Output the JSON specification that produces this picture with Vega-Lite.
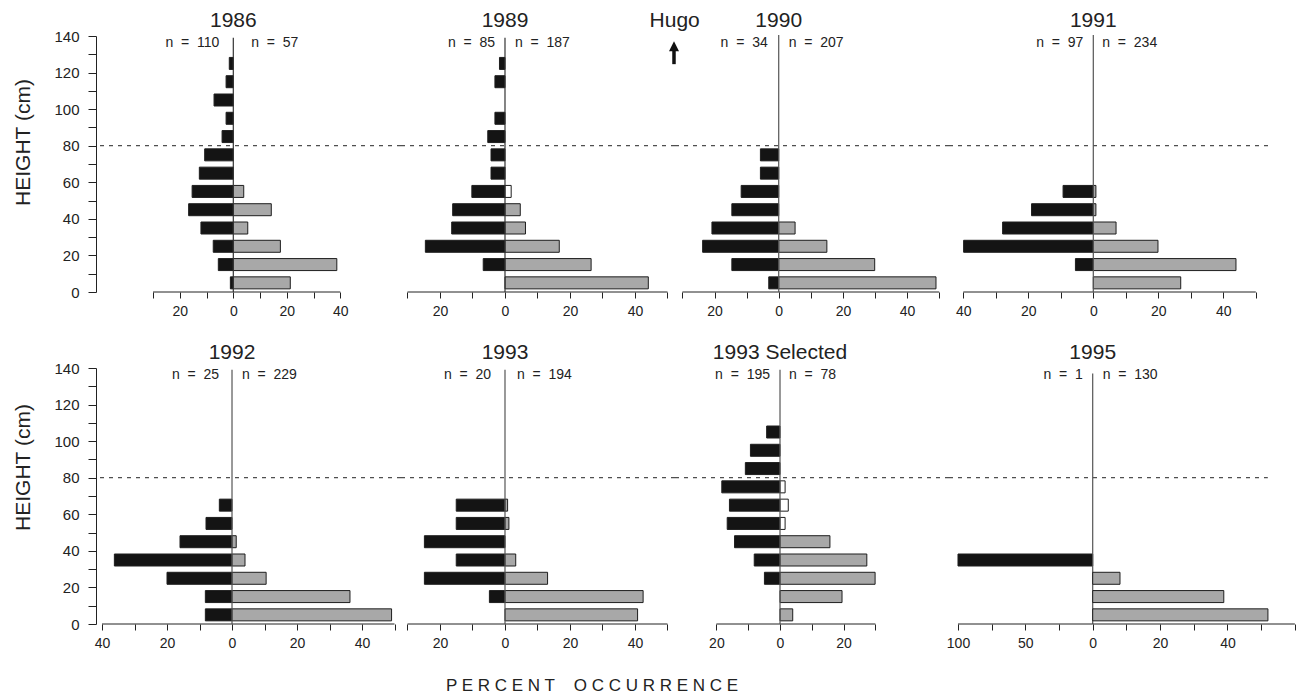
{
"$schema": "https://vega.github.io/schema/vega-lite/v6.json",
"padding": {"left": 12, "top": 10, "right": 0, "bottom": 0},
"background": "white",
"columns": 4,
"bounds": "flush",
"spacing": {"row": 76, "column": 0},
"title": {"text": "P E R C E N T\u00a0\u00a0\u00a0 O C C U R R E N C E", "orient": "bottom", "anchor": "middle", "fontSize": 17, "fontWeight": "normal", "font": "Liberation Sans", "color": "#222", "offset": 28, "dx": -62},
"datasets": {
"bars": [
{"panel":"1986","height_cm":5,"percent":-1.1,"class":"L"},
{"panel":"1986","height_cm":15,"percent":-5.6,"class":"L"},
{"panel":"1986","height_cm":25,"percent":-7.5,"class":"L"},
{"panel":"1986","height_cm":35,"percent":-12.1,"class":"L"},
{"panel":"1986","height_cm":45,"percent":-16.7,"class":"L"},
{"panel":"1986","height_cm":55,"percent":-15.4,"class":"L"},
{"panel":"1986","height_cm":65,"percent":-12.7,"class":"L"},
{"panel":"1986","height_cm":75,"percent":-10.7,"class":"L"},
{"panel":"1986","height_cm":85,"percent":-4.2,"class":"L"},
{"panel":"1986","height_cm":95,"percent":-2.7,"class":"L"},
{"panel":"1986","height_cm":105,"percent":-7.2,"class":"L"},
{"panel":"1986","height_cm":115,"percent":-2.7,"class":"L"},
{"panel":"1986","height_cm":125,"percent":-1.5,"class":"L"},
{"panel":"1986","height_cm":5,"percent":21.3,"class":"R"},
{"panel":"1986","height_cm":15,"percent":38.7,"class":"R"},
{"panel":"1986","height_cm":25,"percent":17.6,"class":"R"},
{"panel":"1986","height_cm":35,"percent":5.4,"class":"R"},
{"panel":"1986","height_cm":45,"percent":14.2,"class":"R"},
{"panel":"1986","height_cm":55,"percent":3.9,"class":"R"},
{"panel":"1989","height_cm":15,"percent":-6.7,"class":"L"},
{"panel":"1989","height_cm":25,"percent":-24.5,"class":"L"},
{"panel":"1989","height_cm":35,"percent":-16.4,"class":"L"},
{"panel":"1989","height_cm":45,"percent":-16.1,"class":"L"},
{"panel":"1989","height_cm":55,"percent":-10.2,"class":"L"},
{"panel":"1989","height_cm":65,"percent":-4.3,"class":"L"},
{"panel":"1989","height_cm":75,"percent":-4.3,"class":"L"},
{"panel":"1989","height_cm":85,"percent":-5.3,"class":"L"},
{"panel":"1989","height_cm":95,"percent":-3.1,"class":"L"},
{"panel":"1989","height_cm":115,"percent":-3.1,"class":"L"},
{"panel":"1989","height_cm":125,"percent":-1.7,"class":"L"},
{"panel":"1989","height_cm":5,"percent":44.1,"class":"R"},
{"panel":"1989","height_cm":15,"percent":26.5,"class":"R"},
{"panel":"1989","height_cm":25,"percent":16.7,"class":"R"},
{"panel":"1989","height_cm":35,"percent":6.3,"class":"R"},
{"panel":"1989","height_cm":45,"percent":4.7,"class":"R"},
{"panel":"1989","height_cm":55,"percent":1.9,"class":"R*"},
{"panel":"1990","height_cm":5,"percent":-3.1,"class":"L"},
{"panel":"1990","height_cm":15,"percent":-14.6,"class":"L"},
{"panel":"1990","height_cm":25,"percent":-23.7,"class":"L"},
{"panel":"1990","height_cm":35,"percent":-20.8,"class":"L"},
{"panel":"1990","height_cm":45,"percent":-14.6,"class":"L"},
{"panel":"1990","height_cm":55,"percent":-11.7,"class":"L"},
{"panel":"1990","height_cm":65,"percent":-5.7,"class":"L"},
{"panel":"1990","height_cm":75,"percent":-5.7,"class":"L"},
{"panel":"1990","height_cm":5,"percent":49.0,"class":"R"},
{"panel":"1990","height_cm":15,"percent":29.9,"class":"R"},
{"panel":"1990","height_cm":25,"percent":15.0,"class":"R"},
{"panel":"1990","height_cm":35,"percent":5.1,"class":"R"},
{"panel":"1991","height_cm":15,"percent":-5.5,"class":"L"},
{"panel":"1991","height_cm":25,"percent":-39.9,"class":"L"},
{"panel":"1991","height_cm":35,"percent":-27.9,"class":"L"},
{"panel":"1991","height_cm":45,"percent":-19.0,"class":"L"},
{"panel":"1991","height_cm":55,"percent":-9.3,"class":"L"},
{"panel":"1991","height_cm":5,"percent":26.9,"class":"R"},
{"panel":"1991","height_cm":15,"percent":43.9,"class":"R"},
{"panel":"1991","height_cm":25,"percent":19.9,"class":"R"},
{"panel":"1991","height_cm":35,"percent":7.0,"class":"R"},
{"panel":"1991","height_cm":45,"percent":0.8,"class":"R"},
{"panel":"1991","height_cm":55,"percent":0.8,"class":"R"},
{"panel":"1992","height_cm":5,"percent":-8.2,"class":"L"},
{"panel":"1992","height_cm":15,"percent":-8.2,"class":"L"},
{"panel":"1992","height_cm":25,"percent":-20.0,"class":"L"},
{"panel":"1992","height_cm":35,"percent":-36.2,"class":"L"},
{"panel":"1992","height_cm":45,"percent":-16.0,"class":"L"},
{"panel":"1992","height_cm":55,"percent":-8.0,"class":"L"},
{"panel":"1992","height_cm":65,"percent":-3.9,"class":"L"},
{"panel":"1992","height_cm":5,"percent":49.1,"class":"R"},
{"panel":"1992","height_cm":15,"percent":36.3,"class":"R"},
{"panel":"1992","height_cm":25,"percent":10.5,"class":"R"},
{"panel":"1992","height_cm":35,"percent":4.0,"class":"R"},
{"panel":"1992","height_cm":45,"percent":1.3,"class":"R"},
{"panel":"1993","height_cm":15,"percent":-4.8,"class":"L"},
{"panel":"1993","height_cm":25,"percent":-24.8,"class":"L"},
{"panel":"1993","height_cm":35,"percent":-15.0,"class":"L"},
{"panel":"1993","height_cm":45,"percent":-24.8,"class":"L"},
{"panel":"1993","height_cm":55,"percent":-15.0,"class":"L"},
{"panel":"1993","height_cm":65,"percent":-15.0,"class":"L"},
{"panel":"1993","height_cm":5,"percent":40.8,"class":"R"},
{"panel":"1993","height_cm":15,"percent":42.5,"class":"R"},
{"panel":"1993","height_cm":25,"percent":13.1,"class":"R"},
{"panel":"1993","height_cm":35,"percent":3.3,"class":"R"},
{"panel":"1993","height_cm":55,"percent":1.2,"class":"R"},
{"panel":"1993","height_cm":65,"percent":0.8,"class":"R"},
{"panel":"1993 Selected","height_cm":25,"percent":-4.9,"class":"L"},
{"panel":"1993 Selected","height_cm":35,"percent":-8.1,"class":"L"},
{"panel":"1993 Selected","height_cm":45,"percent":-14.3,"class":"L"},
{"panel":"1993 Selected","height_cm":55,"percent":-16.6,"class":"L"},
{"panel":"1993 Selected","height_cm":65,"percent":-15.9,"class":"L"},
{"panel":"1993 Selected","height_cm":75,"percent":-18.3,"class":"L"},
{"panel":"1993 Selected","height_cm":85,"percent":-10.9,"class":"L"},
{"panel":"1993 Selected","height_cm":95,"percent":-9.3,"class":"L"},
{"panel":"1993 Selected","height_cm":105,"percent":-4.2,"class":"L"},
{"panel":"1993 Selected","height_cm":5,"percent":4.0,"class":"R"},
{"panel":"1993 Selected","height_cm":15,"percent":19.5,"class":"R"},
{"panel":"1993 Selected","height_cm":25,"percent":29.9,"class":"R"},
{"panel":"1993 Selected","height_cm":35,"percent":27.3,"class":"R"},
{"panel":"1993 Selected","height_cm":45,"percent":15.7,"class":"R"},
{"panel":"1993 Selected","height_cm":55,"percent":1.6,"class":"R*"},
{"panel":"1993 Selected","height_cm":65,"percent":2.6,"class":"R*"},
{"panel":"1993 Selected","height_cm":75,"percent":1.6,"class":"R*"},
{"panel":"1995","height_cm":35,"percent":-100,"class":"L"},
{"panel":"1995","height_cm":5,"percent":52.0,"class":"R"},
{"panel":"1995","height_cm":15,"percent":38.9,"class":"R"},
{"panel":"1995","height_cm":25,"percent":8.1,"class":"R"}
],
"counts": [
{"panel":"1986","side":"L","n":110},{"panel":"1986","side":"R","n":57},
{"panel":"1989","side":"L","n":85},{"panel":"1989","side":"R","n":187},
{"panel":"1990","side":"L","n":34},{"panel":"1990","side":"R","n":207},
{"panel":"1991","side":"L","n":97},{"panel":"1991","side":"R","n":234},
{"panel":"1992","side":"L","n":25},{"panel":"1992","side":"R","n":229},
{"panel":"1993","side":"L","n":20},{"panel":"1993","side":"R","n":194},
{"panel":"1993 Selected","side":"L","n":195},{"panel":"1993 Selected","side":"R","n":78},
{"panel":"1995","side":"L","n":1},{"panel":"1995","side":"R","n":130}
],
"one": [{}]
},
"concat": [
{"width": 305, "height": 256, "layer": [
 {"data":{"name":"one"},"mark": {"type":"rule","strokeDash":[4,5],"color":"#222"}, "encoding": {"y": {"datum":80,"type":"quantitative","scale":{"domain":[0,140],"nice":false,"zero":false,"padding":0},"axis":{"values":[0,10,20,30,40,50,60,70,80,90,100,110,120,130,140],"tickCount":100,"labelExpr":"datum.value % 20 === 0 ? datum.label : ''","labelOverlap":false,"title":"HEIGHT (cm)","titleFontSize":21,"titleX":-73,"titleY":106,"titleAngle":270,"titleAlign":"center","titleBaseline":"middle"}}}},
 {"data":{"name":"bars"},"transform":[{"filter":"datum.panel === '1986'"}],
  "mark":{"type":"bar","orient":"horizontal","size":12,"stroke":"#1e1e1e","strokeWidth":1},
  "encoding":{
   "x":{"field":"percent","type":"quantitative","stack":null,"scale":{"domain":[-51.33,62.69],"nice":false,"zero":false,"padding":0},"axis":{"values":[-30,-20,-10,0,10,20,30,40],"tickCount":100,"labelExpr":"abs(datum.value) % 20 === 0 ? format(abs(datum.value), 'd') : ''","labelOverlap":false,"title":null}},
   "y":{"field":"height_cm","type":"quantitative","scale":{"domain":[0,140],"nice":false,"zero":false,"padding":0},"axis":{"values":[0,10,20,30,40,50,60,70,80,90,100,110,120,130,140],"tickCount":100,"labelExpr":"datum.value % 20 === 0 ? datum.label : ''","labelOverlap":false,"title":"HEIGHT (cm)","titleFontSize":21,"titleX":-73,"titleY":106,"titleAngle":270,"titleAlign":"center","titleBaseline":"middle"}},
   "fill":{"field":"class","type":"nominal","scale":{"domain":["L","R","R*"],"range":["#141414","#a8a8a8","#ffffff"]},"legend":null}}},
 {"data":{"name":"one"},"mark":{"type":"rule","color":"#222"},"encoding":{"x":{"datum":-30,"type":"quantitative","scale":{"domain":[-51.33,62.69],"nice":false,"zero":false,"padding":0}},"x2":{"datum":40},"y":{"datum":0,"type":"quantitative"}}},
 {"data":{"name":"one"},"mark":{"type":"rule","color":"#333","strokeWidth":1.2},"encoding":{"x":{"datum":0,"type":"quantitative"},"y":{"datum":0,"type":"quantitative"},"y2":{"datum":139}}},
 {"data":{"name":"counts"},"transform":[{"filter":"datum.panel === '1986' && datum.side === 'L'"},{"calculate":"'n\u00a0\u00a0=\u00a0\u00a0' + datum.n","as":"label"}],
  "mark":{"type":"text","align":"right","dx":-14,"fontSize":14},"encoding":{"x":{"datum":0,"type":"quantitative"},"y":{"datum":136,"type":"quantitative"},"text":{"field":"label"}}},
 {"data":{"name":"counts"},"transform":[{"filter":"datum.panel === '1986' && datum.side === 'R'"},{"calculate":"'n\u00a0\u00a0=\u00a0\u00a0' + datum.n","as":"label"}],
  "mark":{"type":"text","align":"left","dx":18,"fontSize":14},"encoding":{"x":{"datum":0,"type":"quantitative"},"y":{"datum":136,"type":"quantitative"},"text":{"field":"label"}}},
 {"data":{"name":"one"},"mark":{"type":"text","text":"1986","fontSize":21},"encoding":{"x":{"datum":0,"type":"quantitative"},"y":{"datum":148,"type":"quantitative"}}}
]},
{"width": 274, "height": 256, "layer": [
 {"data":{"name":"one"},"mark": {"type":"rule","strokeDash":[4,5],"color":"#222"}, "encoding": {"y": {"datum":80,"type":"quantitative","scale":{"domain":[0,140],"nice":false,"zero":false,"padding":0},"axis":null}}},
 {"data":{"name":"bars"},"transform":[{"filter":"datum.panel === '1989'"}],
  "mark":{"type":"bar","orient":"horizontal","size":12,"stroke":"#1e1e1e","strokeWidth":1},
  "encoding":{
   "x":{"field":"percent","type":"quantitative","stack":null,"scale":{"domain":[-32.0,52.31],"nice":false,"zero":false,"padding":0},"axis":{"values":[-30,-20,-10,0,10,20,30,40,50],"tickCount":100,"labelExpr":"abs(datum.value) % 20 === 0 ? format(abs(datum.value), 'd') : ''","labelOverlap":false,"title":null}},
   "y":{"field":"height_cm","type":"quantitative","scale":{"domain":[0,140],"nice":false,"zero":false,"padding":0},"axis":null},
   "fill":{"field":"class","type":"nominal","scale":{"domain":["L","R","R*"],"range":["#141414","#a8a8a8","#ffffff"]},"legend":null}}},
 {"data":{"name":"one"},"mark":{"type":"rule","color":"#222"},"encoding":{"x":{"datum":-30,"type":"quantitative","scale":{"domain":[-32.0,52.31],"nice":false,"zero":false,"padding":0}},"x2":{"datum":50},"y":{"datum":0,"type":"quantitative","axis":null}}},
 {"data":{"name":"one"},"mark":{"type":"rule","color":"#333","strokeWidth":1.2},"encoding":{"x":{"datum":0,"type":"quantitative"},"y":{"datum":0,"type":"quantitative","axis":null},"y2":{"datum":139}}},
 {"data":{"name":"counts"},"transform":[{"filter":"datum.panel === '1989' && datum.side === 'L'"},{"calculate":"'n\u00a0\u00a0=\u00a0\u00a0' + datum.n","as":"label"}],
  "mark":{"type":"text","align":"right","dx":-10,"fontSize":14},"encoding":{"x":{"datum":0,"type":"quantitative"},"y":{"datum":136,"type":"quantitative","axis":null},"text":{"field":"label"}}},
 {"data":{"name":"counts"},"transform":[{"filter":"datum.panel === '1989' && datum.side === 'R'"},{"calculate":"'n\u00a0\u00a0=\u00a0\u00a0' + datum.n","as":"label"}],
  "mark":{"type":"text","align":"left","dx":10,"fontSize":14},"encoding":{"x":{"datum":0,"type":"quantitative"},"y":{"datum":136,"type":"quantitative","axis":null},"text":{"field":"label"}}},
 {"data":{"name":"one"},"mark":{"type":"text","text":"1989","fontSize":21},"encoding":{"x":{"datum":0,"type":"quantitative"},"y":{"datum":148,"type":"quantitative","axis":null}}},
 {"data":{"name":"one"},"mark":{"type":"text","text":"Hugo","fontSize":21},"encoding":{"x":{"datum":52.2,"type":"quantitative"},"y":{"datum":148,"type":"quantitative","axis":null}}},
 {"data":{"name":"one"},"mark":{"type":"rule","color":"#111","strokeWidth":3.5},"encoding":{"x":{"datum":52,"type":"quantitative"},"y":{"datum":124.6,"type":"quantitative","axis":null},"y2":{"datum":132.5}}},
 {"data":{"name":"one"},"mark":{"type":"point","shape":"M-1,1L0,-1L1,1Z","filled":true,"color":"#111","size":100,"opacity":1,"strokeWidth":0},"encoding":{"x":{"datum":52,"type":"quantitative"},"y":{"datum":134.4,"type":"quantitative","axis":null}}}
]},
{"width": 274, "height": 256, "layer": [
 {"data":{"name":"one"},"mark": {"type":"rule","strokeDash":[4,5],"color":"#222"}, "encoding": {"y": {"datum":80,"type":"quantitative","scale":{"domain":[0,140],"nice":false,"zero":false,"padding":0},"axis":null}}},
 {"data":{"name":"bars"},"transform":[{"filter":"datum.panel === '1990'"}],
  "mark":{"type":"bar","orient":"horizontal","size":12,"stroke":"#1e1e1e","strokeWidth":1},
  "encoding":{
   "x":{"field":"percent","type":"quantitative","stack":null,"scale":{"domain":[-32.31,53.05],"nice":false,"zero":false,"padding":0},"axis":{"values":[-30,-20,-10,0,10,20,30,40,50],"tickCount":100,"labelExpr":"abs(datum.value) % 20 === 0 ? format(abs(datum.value), 'd') : ''","labelOverlap":false,"title":null}},
   "y":{"field":"height_cm","type":"quantitative","scale":{"domain":[0,140],"nice":false,"zero":false,"padding":0},"axis":null},
   "fill":{"field":"class","type":"nominal","scale":{"domain":["L","R","R*"],"range":["#141414","#a8a8a8","#ffffff"]},"legend":null}}},
 {"data":{"name":"one"},"mark":{"type":"rule","color":"#222"},"encoding":{"x":{"datum":-30,"type":"quantitative","scale":{"domain":[-32.31,53.05],"nice":false,"zero":false,"padding":0}},"x2":{"datum":50},"y":{"datum":0,"type":"quantitative","axis":null}}},
 {"data":{"name":"one"},"mark":{"type":"rule","color":"#555","strokeWidth":1.2},"encoding":{"x":{"datum":0,"type":"quantitative"},"y":{"datum":0,"type":"quantitative","axis":null},"y2":{"datum":140.5}}},
 {"data":{"name":"counts"},"transform":[{"filter":"datum.panel === '1990' && datum.side === 'L'"},{"calculate":"'n\u00a0\u00a0=\u00a0\u00a0' + datum.n","as":"label"}],
  "mark":{"type":"text","align":"right","dx":-11,"fontSize":14},"encoding":{"x":{"datum":0,"type":"quantitative"},"y":{"datum":136,"type":"quantitative","axis":null},"text":{"field":"label"}}},
 {"data":{"name":"counts"},"transform":[{"filter":"datum.panel === '1990' && datum.side === 'R'"},{"calculate":"'n\u00a0\u00a0=\u00a0\u00a0' + datum.n","as":"label"}],
  "mark":{"type":"text","align":"left","dx":10,"fontSize":14},"encoding":{"x":{"datum":0,"type":"quantitative"},"y":{"datum":136,"type":"quantitative","axis":null},"text":{"field":"label"}}},
 {"data":{"name":"one"},"mark":{"type":"text","text":"1990","fontSize":21},"encoding":{"x":{"datum":0,"type":"quantitative"},"y":{"datum":148,"type":"quantitative","axis":null}}}
]},
{"width": 347, "height": 256, "layer": [
 {"data":{"name":"one"},"mark": {"type":"rule","strokeDash":[4,5],"color":"#222"}, "encoding": {"y": {"datum":80,"type":"quantitative","scale":{"domain":[0,140],"nice":false,"zero":false,"padding":0},"axis":null},"x":{"datum":-44.4,"type":"quantitative","scale":{"domain":[-44.4,62.37],"nice":false,"zero":false,"padding":0}},"x2":{"datum":53.75}}},
 {"data":{"name":"bars"},"transform":[{"filter":"datum.panel === '1991'"}],
  "mark":{"type":"bar","orient":"horizontal","size":12,"stroke":"#1e1e1e","strokeWidth":1},
  "encoding":{
   "x":{"field":"percent","type":"quantitative","stack":null,"scale":{"domain":[-44.4,62.37],"nice":false,"zero":false,"padding":0},"axis":{"values":[-40,-30,-20,-10,0,10,20,30,40,50],"tickCount":100,"labelExpr":"abs(datum.value) % 20 === 0 ? format(abs(datum.value), 'd') : ''","labelOverlap":false,"title":null}},
   "y":{"field":"height_cm","type":"quantitative","scale":{"domain":[0,140],"nice":false,"zero":false,"padding":0},"axis":null},
   "fill":{"field":"class","type":"nominal","scale":{"domain":["L","R","R*"],"range":["#141414","#a8a8a8","#ffffff"]},"legend":null}}},
 {"data":{"name":"one"},"mark":{"type":"rule","color":"#222"},"encoding":{"x":{"datum":-40,"type":"quantitative"},"x2":{"datum":50},"y":{"datum":0,"type":"quantitative","axis":null}}},
 {"data":{"name":"one"},"mark":{"type":"rule","color":"#555","strokeWidth":1.2},"encoding":{"x":{"datum":0,"type":"quantitative"},"y":{"datum":0,"type":"quantitative","axis":null},"y2":{"datum":140.5}}},
 {"data":{"name":"counts"},"transform":[{"filter":"datum.panel === '1991' && datum.side === 'L'"},{"calculate":"'n\u00a0\u00a0=\u00a0\u00a0' + datum.n","as":"label"}],
  "mark":{"type":"text","align":"right","dx":-10,"fontSize":14},"encoding":{"x":{"datum":0,"type":"quantitative"},"y":{"datum":136,"type":"quantitative","axis":null},"text":{"field":"label"}}},
 {"data":{"name":"counts"},"transform":[{"filter":"datum.panel === '1991' && datum.side === 'R'"},{"calculate":"'n\u00a0\u00a0=\u00a0\u00a0' + datum.n","as":"label"}],
  "mark":{"type":"text","align":"left","dx":9,"fontSize":14},"encoding":{"x":{"datum":0,"type":"quantitative"},"y":{"datum":136,"type":"quantitative","axis":null},"text":{"field":"label"}}},
 {"data":{"name":"one"},"mark":{"type":"text","text":"1991","fontSize":21},"encoding":{"x":{"datum":0,"type":"quantitative"},"y":{"datum":148,"type":"quantitative","axis":null}}}
]},
{"width": 305, "height": 256, "layer": [
 {"data":{"name":"one"},"mark": {"type":"rule","strokeDash":[4,5],"color":"#222"}, "encoding": {"y": {"datum":80,"type":"quantitative","scale":{"domain":[0,140],"nice":false,"zero":false,"padding":0},"axis":{"values":[0,10,20,30,40,50,60,70,80,90,100,110,120,130,140],"tickCount":100,"labelExpr":"datum.value % 20 === 0 ? datum.label : ''","labelOverlap":false,"title":"HEIGHT (cm)","titleFontSize":21,"titleX":-73,"titleY":99,"titleAngle":270,"titleAlign":"center","titleBaseline":"middle"}}}},
 {"data":{"name":"bars"},"transform":[{"filter":"datum.panel === '1992'"}],
  "mark":{"type":"bar","orient":"horizontal","size":12,"stroke":"#1e1e1e","strokeWidth":1},
  "encoding":{
   "x":{"field":"percent","type":"quantitative","stack":null,"scale":{"domain":[-41.85,52.0],"nice":false,"zero":false,"padding":0},"axis":{"values":[-40,-30,-20,-10,0,10,20,30,40,50],"tickCount":100,"labelExpr":"abs(datum.value) % 20 === 0 ? format(abs(datum.value), 'd') : ''","labelOverlap":false,"title":null}},
   "y":{"field":"height_cm","type":"quantitative","scale":{"domain":[0,140],"nice":false,"zero":false,"padding":0},"axis":{"values":[0,10,20,30,40,50,60,70,80,90,100,110,120,130,140],"tickCount":100,"labelExpr":"datum.value % 20 === 0 ? datum.label : ''","labelOverlap":false,"title":"HEIGHT (cm)","titleFontSize":21,"titleX":-73,"titleY":99,"titleAngle":270,"titleAlign":"center","titleBaseline":"middle"}},
   "fill":{"field":"class","type":"nominal","scale":{"domain":["L","R","R*"],"range":["#141414","#a8a8a8","#ffffff"]},"legend":null}}},
 {"data":{"name":"one"},"mark":{"type":"rule","color":"#222"},"encoding":{"x":{"datum":-40,"type":"quantitative","scale":{"domain":[-41.85,52.0],"nice":false,"zero":false,"padding":0}},"x2":{"datum":50},"y":{"datum":0,"type":"quantitative"}}},
 {"data":{"name":"one"},"mark":{"type":"rule","color":"#555","strokeWidth":1.2},"encoding":{"x":{"datum":0,"type":"quantitative"},"y":{"datum":0,"type":"quantitative"},"y2":{"datum":139}}},
 {"data":{"name":"counts"},"transform":[{"filter":"datum.panel === '1992' && datum.side === 'L'"},{"calculate":"'n\u00a0\u00a0=\u00a0\u00a0' + datum.n","as":"label"}],
  "mark":{"type":"text","align":"right","dx":-13,"fontSize":14},"encoding":{"x":{"datum":0,"type":"quantitative"},"y":{"datum":136,"type":"quantitative"},"text":{"field":"label"}}},
 {"data":{"name":"counts"},"transform":[{"filter":"datum.panel === '1992' && datum.side === 'R'"},{"calculate":"'n\u00a0\u00a0=\u00a0\u00a0' + datum.n","as":"label"}],
  "mark":{"type":"text","align":"left","dx":10,"fontSize":14},"encoding":{"x":{"datum":0,"type":"quantitative"},"y":{"datum":136,"type":"quantitative"},"text":{"field":"label"}}},
 {"data":{"name":"one"},"mark":{"type":"text","text":"1992","fontSize":21},"encoding":{"x":{"datum":0,"type":"quantitative"},"y":{"datum":148,"type":"quantitative"}}}
]},
{"width": 274, "height": 256, "layer": [
 {"data":{"name":"one"},"mark": {"type":"rule","strokeDash":[4,5],"color":"#222"}, "encoding": {"y": {"datum":80,"type":"quantitative","scale":{"domain":[0,140],"nice":false,"zero":false,"padding":0},"axis":null}}},
 {"data":{"name":"bars"},"transform":[{"filter":"datum.panel === '1993'"}],
  "mark":{"type":"bar","orient":"horizontal","size":12,"stroke":"#1e1e1e","strokeWidth":1},
  "encoding":{
   "x":{"field":"percent","type":"quantitative","stack":null,"scale":{"domain":[-32.0,52.31],"nice":false,"zero":false,"padding":0},"axis":{"values":[-30,-20,-10,0,10,20,30,40,50],"tickCount":100,"labelExpr":"abs(datum.value) % 20 === 0 ? format(abs(datum.value), 'd') : ''","labelOverlap":false,"title":null}},
   "y":{"field":"height_cm","type":"quantitative","scale":{"domain":[0,140],"nice":false,"zero":false,"padding":0},"axis":null},
   "fill":{"field":"class","type":"nominal","scale":{"domain":["L","R","R*"],"range":["#141414","#a8a8a8","#ffffff"]},"legend":null}}},
 {"data":{"name":"one"},"mark":{"type":"rule","color":"#222"},"encoding":{"x":{"datum":-30,"type":"quantitative","scale":{"domain":[-32.0,52.31],"nice":false,"zero":false,"padding":0}},"x2":{"datum":50},"y":{"datum":0,"type":"quantitative","axis":null}}},
 {"data":{"name":"one"},"mark":{"type":"rule","color":"#555","strokeWidth":1.2},"encoding":{"x":{"datum":0,"type":"quantitative"},"y":{"datum":0,"type":"quantitative","axis":null},"y2":{"datum":139}}},
 {"data":{"name":"counts"},"transform":[{"filter":"datum.panel === '1993' && datum.side === 'L'"},{"calculate":"'n\u00a0\u00a0=\u00a0\u00a0' + datum.n","as":"label"}],
  "mark":{"type":"text","align":"right","dx":-14,"fontSize":14},"encoding":{"x":{"datum":0,"type":"quantitative"},"y":{"datum":136,"type":"quantitative","axis":null},"text":{"field":"label"}}},
 {"data":{"name":"counts"},"transform":[{"filter":"datum.panel === '1993' && datum.side === 'R'"},{"calculate":"'n\u00a0\u00a0=\u00a0\u00a0' + datum.n","as":"label"}],
  "mark":{"type":"text","align":"left","dx":12,"fontSize":14},"encoding":{"x":{"datum":0,"type":"quantitative"},"y":{"datum":136,"type":"quantitative","axis":null},"text":{"field":"label"}}},
 {"data":{"name":"one"},"mark":{"type":"text","text":"1993","fontSize":21},"encoding":{"x":{"datum":0,"type":"quantitative"},"y":{"datum":148,"type":"quantitative","axis":null}}}
]},
{"width": 274, "height": 256, "layer": [
 {"data":{"name":"one"},"mark": {"type":"rule","strokeDash":[4,5],"color":"#222"}, "encoding": {"y": {"datum":80,"type":"quantitative","scale":{"domain":[0,140],"nice":false,"zero":false,"padding":0},"axis":null}}},
 {"data":{"name":"bars"},"transform":[{"filter":"datum.panel === '1993 Selected'"}],
  "mark":{"type":"bar","orient":"horizontal","size":12,"stroke":"#1e1e1e","strokeWidth":1},
  "encoding":{
   "x":{"field":"percent","type":"quantitative","stack":null,"scale":{"domain":[-33.02,53.14],"nice":false,"zero":false,"padding":0},"axis":{"values":[-20,-10,0,10,20,30],"tickCount":100,"labelExpr":"abs(datum.value) % 20 === 0 ? format(abs(datum.value), 'd') : ''","labelOverlap":false,"title":null}},
   "y":{"field":"height_cm","type":"quantitative","scale":{"domain":[0,140],"nice":false,"zero":false,"padding":0},"axis":null},
   "fill":{"field":"class","type":"nominal","scale":{"domain":["L","R","R*"],"range":["#141414","#a8a8a8","#ffffff"]},"legend":null}}},
 {"data":{"name":"one"},"mark":{"type":"rule","color":"#222"},"encoding":{"x":{"datum":-20,"type":"quantitative","scale":{"domain":[-33.02,53.14],"nice":false,"zero":false,"padding":0}},"x2":{"datum":30},"y":{"datum":0,"type":"quantitative","axis":null}}},
 {"data":{"name":"one"},"mark":{"type":"rule","color":"#555","strokeWidth":1.2},"encoding":{"x":{"datum":0,"type":"quantitative"},"y":{"datum":0,"type":"quantitative","axis":null},"y2":{"datum":139}}},
 {"data":{"name":"counts"},"transform":[{"filter":"datum.panel === '1993 Selected' && datum.side === 'L'"},{"calculate":"'n\u00a0\u00a0=\u00a0\u00a0' + datum.n","as":"label"}],
  "mark":{"type":"text","align":"right","dx":-10,"fontSize":14},"encoding":{"x":{"datum":0,"type":"quantitative"},"y":{"datum":136,"type":"quantitative","axis":null},"text":{"field":"label"}}},
 {"data":{"name":"counts"},"transform":[{"filter":"datum.panel === '1993 Selected' && datum.side === 'R'"},{"calculate":"'n\u00a0\u00a0=\u00a0\u00a0' + datum.n","as":"label"}],
  "mark":{"type":"text","align":"left","dx":9,"fontSize":14},"encoding":{"x":{"datum":0,"type":"quantitative"},"y":{"datum":136,"type":"quantitative","axis":null},"text":{"field":"label"}}},
 {"data":{"name":"one"},"mark":{"type":"text","text":"1993 Selected","fontSize":21},"encoding":{"x":{"datum":0,"type":"quantitative"},"y":{"datum":148,"type":"quantitative","axis":null}}}
]},
{"width": 347, "height": 256, "resolve": {"scale": {"x": "independent"}, "axis": {"x": "independent"}}, "layer": [
 {"layer": [
  {"data":{"name":"one"},"mark": {"type":"rule","strokeDash":[4,5],"color":"#222"}, "encoding": {"y": {"datum":80,"type":"quantitative","scale":{"domain":[0,140],"nice":false,"zero":false,"padding":0},"axis":null},"x":{"datum":-106.68,"type":"quantitative","scale":{"domain":[-106.68,150.93],"nice":false,"zero":false,"padding":0}},"x2":{"datum":130}}},
  {"data":{"name":"bars"},"transform":[{"filter":"datum.panel === '1995' && datum.percent < 0"}],
   "mark":{"type":"bar","orient":"horizontal","size":12,"stroke":"#1e1e1e","strokeWidth":1},
   "encoding":{
    "x":{"field":"percent","type":"quantitative","stack":null,"scale":{"domain":[-106.68,150.93],"nice":false,"zero":false,"padding":0},"axis":{"orient":"bottom","values":[-100,-75,-50,-25,0],"tickCount":100,"labelExpr":"abs(datum.value) % 50 === 0 ? format(abs(datum.value), 'd') : ''","labelOverlap":false,"title":null}},
    "y":{"field":"height_cm","type":"quantitative","scale":{"domain":[0,140],"nice":false,"zero":false,"padding":0},"axis":null},
    "fill":{"field":"class","type":"nominal","scale":{"domain":["L","R","R*"],"range":["#141414","#a8a8a8","#ffffff"]},"legend":null}}},
  {"data":{"name":"one"},"mark":{"type":"rule","color":"#222"},"encoding":{"x":{"datum":-100,"type":"quantitative"},"x2":{"datum":0},"y":{"datum":0,"type":"quantitative","axis":null}}},
  {"data":{"name":"one"},"mark":{"type":"rule","color":"#555","strokeWidth":1.2},"encoding":{"x":{"datum":0,"type":"quantitative"},"y":{"datum":0,"type":"quantitative","axis":null},"y2":{"datum":137}}},
  {"data":{"name":"counts"},"transform":[{"filter":"datum.panel === '1995' && datum.side === 'L'"},{"calculate":"'n\u00a0\u00a0=\u00a0\u00a0' + datum.n","as":"label"}],
   "mark":{"type":"text","align":"right","dx":-10,"fontSize":14},"encoding":{"x":{"datum":0,"type":"quantitative"},"y":{"datum":136,"type":"quantitative","axis":null},"text":{"field":"label"}}},
  {"data":{"name":"counts"},"transform":[{"filter":"datum.panel === '1995' && datum.side === 'R'"},{"calculate":"'n\u00a0\u00a0=\u00a0\u00a0' + datum.n","as":"label"}],
   "mark":{"type":"text","align":"left","dx":10,"fontSize":14},"encoding":{"x":{"datum":0,"type":"quantitative"},"y":{"datum":136,"type":"quantitative","axis":null},"text":{"field":"label"}}},
  {"data":{"name":"one"},"mark":{"type":"text","text":"1995","fontSize":21},"encoding":{"x":{"datum":0,"type":"quantitative"},"y":{"datum":148,"type":"quantitative","axis":null}}}
 ]},
 {"layer": [
  {"data":{"name":"bars"},"transform":[{"filter":"datum.panel === '1995' && datum.percent > 0"}],
   "mark":{"type":"bar","orient":"horizontal","size":12,"stroke":"#1e1e1e","strokeWidth":1},
   "encoding":{
    "x":{"field":"percent","type":"quantitative","stack":null,"scale":{"domain":[-42.64,60.33],"nice":false,"zero":false,"padding":0},"axis":{"orient":"bottom","values":[10,20,30,40,50,60],"tickCount":100,"labelExpr":"datum.value === 20 || datum.value === 40 ? format(datum.value, 'd') : ''","labelOverlap":false,"title":null}},
    "y":{"field":"height_cm","type":"quantitative","scale":{"domain":[0,140],"nice":false,"zero":false,"padding":0},"axis":null},
    "fill":{"field":"class","type":"nominal","scale":{"domain":["L","R","R*"],"range":["#141414","#a8a8a8","#ffffff"]},"legend":null}}},
  {"data":{"name":"one"},"mark":{"type":"rule","color":"#222"},"encoding":{"x":{"datum":0,"type":"quantitative","scale":{"domain":[-42.64,60.33],"nice":false,"zero":false,"padding":0}},"x2":{"datum":60},"y":{"datum":0,"type":"quantitative","axis":null}}}
 ]}
]}
],
"config": {
 "font": "Liberation Sans",
 "view": {"stroke": null},
 "scale": {"continuousPadding": 0},
 "axis": {"grid": false, "labelFont": "Liberation Sans", "titleFont": "Liberation Sans", "labelColor": "#222", "tickColor": "#222", "domainColor": "#222", "titleColor": "#222", "labelOverlap": false, "labelBound": false, "titleFontWeight": "normal"},
 "axisX": {"domain": false, "tickSize": 6, "labelPadding": 6, "labelFontSize": 14},
 "axisY": {"tickSize": 8, "labelPadding": 9, "labelFontSize": 15},
 "text": {"font": "Liberation Sans", "color": "#222"}
}
}
